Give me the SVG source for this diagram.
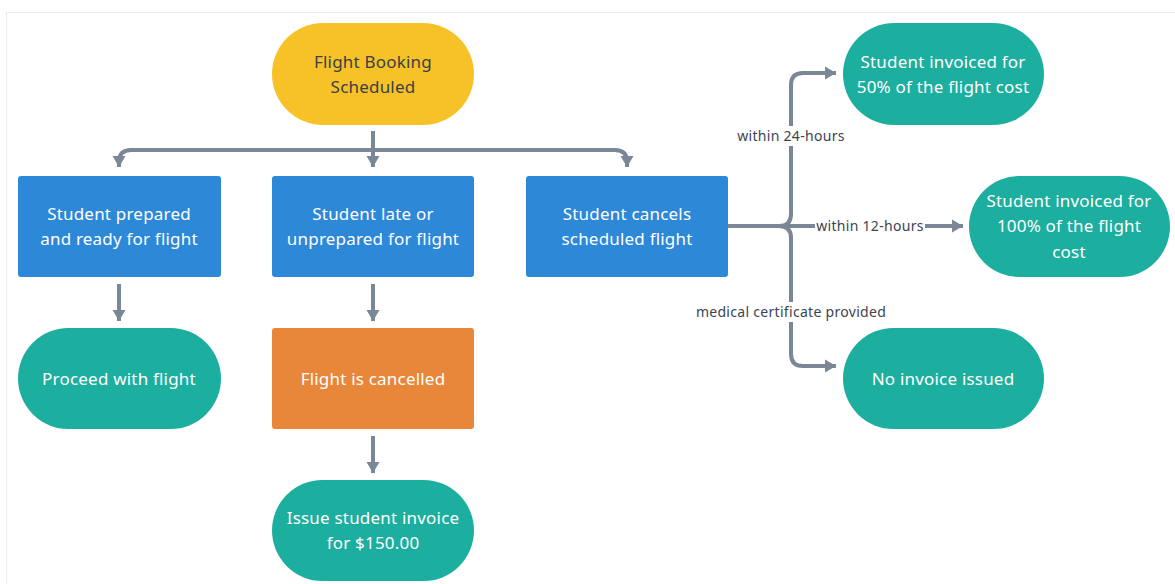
<svg xmlns="http://www.w3.org/2000/svg" width="1175" height="584" viewBox="0 0 1175 584">
<style>
.t{font-family:"Noto Sans","Liberation Sans",sans-serif;font-size:17px;letter-spacing:0.2px;fill:#ffffff;text-anchor:middle}
.dk{fill:#3b3f48}
.lb{font-family:"Noto Sans","Liberation Sans",sans-serif;font-size:14px;letter-spacing:0.3px;fill:#3d4450;text-anchor:middle}
.c{fill:none;stroke:#7a8796;stroke-width:4;stroke-linejoin:round}
.blue{fill:#2d88d8}
.teal{fill:#1cae9e}
</style>
<defs>
<marker id="ah" markerUnits="userSpaceOnUse" markerWidth="14" markerHeight="14" viewBox="0 0 14 14" refX="12" refY="7" orient="auto">
<path d="M1,0.5 L12,7 L1,13.5 Z" fill="#7a8796"/>
</marker>
</defs>
<rect x="0" y="0" width="1175" height="584" fill="#ffffff"/>
<rect x="6.5" y="12.5" width="1200" height="620" fill="none" stroke="#ebebeb" stroke-width="1"/>
<g id="connectors">
<path class="c" d="M373,131 V167" marker-end="url(#ah)"/>
<path class="c" d="M373,150 H131 Q119,150 119,162 V167" marker-end="url(#ah)"/>
<path class="c" d="M373,150 H615 Q627,150 627,162 V167" marker-end="url(#ah)"/>
<path class="c" d="M119,284 V321" marker-end="url(#ah)"/>
<path class="c" d="M373,284 V321" marker-end="url(#ah)"/>
<path class="c" d="M373,436 V473" marker-end="url(#ah)"/>
<path class="c" d="M728,226 H779 Q791,226 791,214 V85 Q791,73 803,73 H836" marker-end="url(#ah)"/>
<path class="c" d="M779,226 Q791,226 791,238 V354 Q791,366 803,366 H836" marker-end="url(#ah)"/>
<path class="c" d="M779,226 H963" marker-end="url(#ah)"/>
<rect x="734" y="126" width="114" height="20" fill="#ffffff"/>
<text class="lb" x="791" y="141">within 24-hours</text>
<rect x="815" y="216" width="110" height="20" fill="#ffffff"/>
<text class="lb" x="870" y="231">within 12-hours</text>
<rect x="692" y="302" width="198" height="20" fill="#ffffff"/>
<text class="lb" x="791" y="317">medical certificate provided</text>
</g>
<g id="n-booking">
<rect x="272" y="23" width="202" height="102" rx="51" fill="#f6c228"/>
<text class="t dk" x="373" y="68">Flight Booking</text>
<text class="t dk" x="373" y="93">Scheduled</text>
</g>
<g id="n-prepared">
<rect class="blue" x="18" y="176" width="203" height="101" rx="3"/>
<text class="t" x="119" y="220">Student prepared</text>
<text class="t" x="119" y="245">and ready for flight</text>
</g>
<g id="n-late">
<rect class="blue" x="272" y="176" width="202" height="101" rx="3"/>
<text class="t" x="373" y="220">Student late or</text>
<text class="t" x="373" y="245">unprepared for flight</text>
</g>
<g id="n-cancels">
<rect class="blue" x="526" y="176" width="202" height="101" rx="3"/>
<text class="t" x="627" y="220">Student cancels</text>
<text class="t" x="627" y="245">scheduled flight</text>
</g>
<g id="n-proceed">
<rect class="teal" x="18" y="328" width="203" height="101" rx="50.5"/>
<text class="t" x="119" y="385">Proceed with flight</text>
</g>
<g id="n-flightcancelled">
<rect x="272" y="328" width="202" height="101" rx="3" fill="#e8863a"/>
<text class="t" x="373" y="385">Flight is cancelled</text>
</g>
<g id="n-issue">
<rect class="teal" x="272" y="480" width="202" height="101" rx="50.5"/>
<text class="t" x="373" y="524">Issue student invoice</text>
<text class="t" x="373" y="549">for $150.00</text>
</g>
<g id="n-50">
<rect class="teal" x="843" y="23" width="201" height="102" rx="51"/>
<text class="t" x="943" y="68">Student invoiced for</text>
<text class="t" x="943" y="93">50% of the flight cost</text>
</g>
<g id="n-100">
<rect class="teal" x="969" y="176" width="201" height="101" rx="50.5"/>
<text class="t" x="1069" y="207">Student invoiced for</text>
<text class="t" x="1069" y="232">100% of the flight</text>
<text class="t" x="1069" y="258">cost</text>
</g>
<g id="n-none">
<rect class="teal" x="843" y="328" width="201" height="101" rx="50.5"/>
<text class="t" x="943" y="385">No invoice issued</text>
</g>
</svg>
